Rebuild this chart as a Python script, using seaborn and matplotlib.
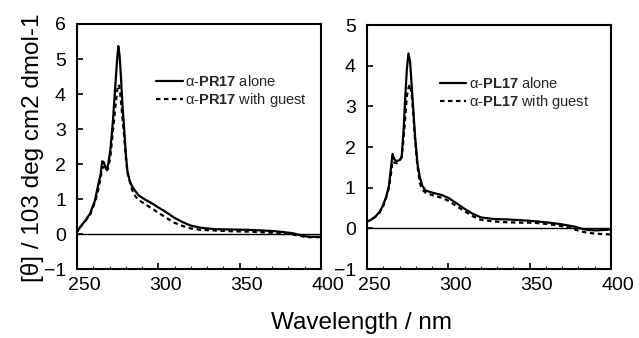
import matplotlib
matplotlib.use("Agg")
import numpy as np
import pandas as pd
import matplotlib.pyplot as plt
import matplotlib.transforms as mtransforms
from matplotlib.ticker import MultipleLocator
import seaborn as sns

# ---- data ----
wl_pr = [249, 252, 255, 258, 261, 263, 264.5, 265.5, 266.5, 267.8,
         269, 270.5, 272, 273.5, 274.7, 275.4, 276.2, 277, 278, 279,
         280, 281, 282.5, 284, 286, 288, 292, 296, 300, 305,
         310, 315, 320, 326, 335, 345, 355, 365, 372, 378,
         383, 387, 391, 395, 400]
pr_alone = [0, 0.2, 0.38, 0.58, 0.95, 1.4, 1.7, 2.08, 2.05, 1.86,
            1.95, 2.4, 3.17, 4.2, 5.0, 5.37, 5.1, 4.5, 3.65, 3.0,
            2.3, 1.8, 1.5, 1.35, 1.22, 1.1, 0.98, 0.88, 0.76, 0.62,
            0.46, 0.34, 0.24, 0.18, 0.14, 0.13, 0.12, 0.1, 0.08, 0.05,
            0.02, -0.03, -0.07, -0.08, -0.08]
pr_guest = [0, 0.2, 0.36, 0.55, 0.9, 1.25, 1.6, 1.9, 1.92, 1.8,
            1.85, 2.2, 2.9, 3.6, 4.1, 4.27, 4.2, 3.8, 3.3, 2.8,
            2.2, 1.75, 1.5, 1.25, 1.07, 0.97, 0.85, 0.73, 0.61, 0.46,
            0.32, 0.23, 0.16, 0.12, 0.1, 0.08, 0.07, 0.05, 0.03, 0.01,
            -0.02, -0.05, -0.09, -0.09, -0.09]

wl_pl = [249, 252, 255, 258, 260, 262, 263.5, 264.8, 265.7, 266.8,
         268.2, 270, 271.3, 272.5, 273.5, 274.5, 275.5, 276.5, 277.5, 278.5,
         279.5, 281, 282.5, 284, 286, 290, 296, 300, 305, 310,
         315, 320, 328, 336, 345, 352, 360, 368, 374, 378,
         382, 386, 391, 395, 400]
pl_alone = [0.15, 0.2, 0.28, 0.42, 0.58, 0.8, 1.05, 1.5, 1.83, 1.7,
            1.65, 1.68, 1.75, 2.4, 3.2, 3.9, 4.3, 4.1, 3.5, 2.9,
            2.3, 1.6, 1.25, 1.05, 0.93, 0.88, 0.82, 0.75, 0.62, 0.48,
            0.36, 0.27, 0.23, 0.22, 0.2, 0.18, 0.15, 0.11, 0.07, 0.04,
            -0.01, -0.04, -0.05, -0.04, -0.03]
pl_guest = [0.15, 0.2, 0.28, 0.4, 0.55, 0.78, 1.0, 1.35, 1.65, 1.62,
            1.6, 1.65, 1.75, 2.2, 2.7, 3.25, 3.45, 3.54, 3.3, 2.8,
            2.2, 1.55, 1.12, 0.95, 0.88, 0.82, 0.75, 0.68, 0.55, 0.42,
            0.3, 0.21, 0.17, 0.15, 0.14, 0.14, 0.11, 0.07, 0.02, -0.03,
            -0.08, -0.11, -0.13, -0.14, -0.15]

labels_pr = ["α-$\\mathbf{PR17}$ alone", "α-$\\mathbf{PR17}$ with guest"]
labels_pl = ["α-$\\mathbf{PL17}$ alone", "α-$\\mathbf{PL17}$ with guest"]
xticks = [250, 300, 350, 400]

sns.set_theme(style="ticks")
plt.rcParams["font.family"] = ["Liberation Sans", "DejaVu Sans"]
plt.rcParams["mathtext.fontset"] = "custom"
plt.rcParams["mathtext.rm"] = "Liberation Sans"
plt.rcParams["mathtext.bf"] = "Liberation Sans:bold"
plt.rcParams["mathtext.it"] = "Liberation Sans:italic"


def make_df(wl, a, g, labels):
    return pd.DataFrame({"wl": wl * 2,
                         "val": a + g,
                         "cond": [labels[0]] * len(wl) + [labels[1]] * len(wl)})


fig = plt.figure(figsize=(6.39, 3.38), dpi=100)
ax1 = fig.add_axes([0.1205, 0.204, 0.3818, 0.725])
ax2 = fig.add_axes([0.5743, 0.204, 0.3818, 0.722])

panels = [
    (ax1, make_df(wl_pr, pr_alone, pr_guest, labels_pr), labels_pr, (-1, 6), (0.325, 0.795)),
    (ax2, make_df(wl_pl, pl_alone, pl_guest, labels_pl), labels_pl, (-1, 5), (0.3, 0.79)),
]

offset = mtransforms.ScaledTranslation(7 / 100, 0, fig.dpi_scale_trans)

for ax, df, labs, ylim, lpos in panels:
    ax.axhline(0, color="black", lw=1.0, zorder=1)
    sns.lineplot(data=df, x="wl", y="val", style="cond", style_order=labs,
                 dashes={labs[0]: "", labs[1]: (2, 1.6)},
                 color="black", lw=1.6, sort=False, ax=ax)
    ax.set_xlim(250, 400)
    ax.set_ylim(*ylim)
    ax.set_xticks(xticks)
    ax.xaxis.set_minor_locator(MultipleLocator(10))
    ax.yaxis.set_major_locator(MultipleLocator(1))
    ax.tick_params(which="major", direction="in", length=4, width=1.2,
                   labelsize=14, colors="black", pad=6)
    ax.tick_params(axis="y", pad=8)
    ax.tick_params(which="minor", direction="in", length=2, width=0.8)
    ax.tick_params(which="both", top=False, right=False)
    for lab in ax.get_xticklabels():
        lab.set_transform(lab.get_transform() + offset)
    for sp in ax.spines.values():
        sp.set_visible(True)
        sp.set_linewidth(1.5)
        sp.set_color("black")
    ax.set_xlabel("")
    ax.set_ylabel("")
    h, l = ax.get_legend_handles_labels()
    ax.legend(h, l, loc="upper left", bbox_to_anchor=lpos, frameon=False,
              fontsize=10.5, handlelength=1.8, handletextpad=0.15,
              borderpad=0, borderaxespad=0, labelspacing=0.1)

fig.text(33 / 639, 1 - 148 / 338, "[θ] / 103 deg cm2 dmol-1", rotation=90,
         ha="center", va="center", fontsize=17.5, color="black")
fig.text(361 / 639, 1 - 323 / 338, "Wavelength / nm", ha="center",
         va="center", fontsize=17.5, color="black")

fig.savefig("out.png", dpi=100)
